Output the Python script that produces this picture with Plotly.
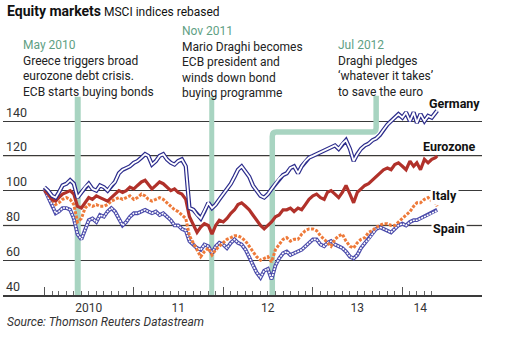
import plotly.graph_objects as go

# ---------------- data (half-monthly readings, MSCI indices rebased) ----------------
dates = []
for yr in range(2010, 2015):
    for mth in range(1, 13):
        if yr == 2014 and mth > 5:
            break
        dates.append(f"{yr}-{mth:02d}-01")
        dates.append(f"{yr}-{mth:02d}-16")
dates.append("2014-05-23")

germany = [102, 100, 97, 96, 99, 103, 104, 106, 104, 96,
           99, 102, 104, 101, 100, 103, 102, 100, 103, 105,
           110, 112, 113, 114, 116, 117, 119, 121, 120, 115,
           117, 120, 121, 118, 116, 115, 117, 118, 114, 90,
           89, 86, 84, 88, 93, 90, 92, 95, 98, 101,
           104, 108, 112, 114, 111, 108, 103, 100, 97, 96,
           98, 101, 104, 107, 109, 110, 113, 114, 110, 114,
           117, 119, 120, 121, 122, 123, 124, 125, 126, 124,
           127, 129, 124, 117, 121, 124, 126, 127, 129, 130,
           132, 135, 138, 140, 142, 144, 142, 145, 140, 145,
           139, 144, 140, 143, 142, 145, 146]

eurozone = [100, 98, 95, 94, 96, 98, 99, 100, 98, 91,
            90, 93, 96, 95, 97, 96, 95, 94, 96, 98,
            100, 99, 100, 102, 101, 103, 105, 106, 104, 101,
            103, 105, 104, 102, 100, 101, 99, 98, 95, 85,
            80, 76, 79, 81, 80, 75, 80, 83, 82, 84,
            87, 89, 92, 93, 91, 89, 86, 83, 80, 78,
            80, 82, 85, 86, 89, 89, 90, 88, 90, 89,
            92, 95, 97, 98, 96, 95, 99, 100, 98, 96,
            99, 103, 98, 93, 99, 101, 103, 104, 106, 108,
            110, 112, 113, 112, 115, 116, 114, 112, 117, 114,
            116, 112, 118, 116, 118, 119, 120]

italy = [101, 98, 95, 92, 93, 95, 96, 95, 92, 82,
         84, 90, 92, 91, 92, 91, 91, 92, 94, 95,
         96, 95, 96, 97, 95, 96, 98, 97, 95, 94,
         95, 96, 95, 93, 91, 89, 88, 86, 84, 74,
         70, 66, 62, 65, 67, 63, 66, 68, 70, 72,
         73, 74, 74, 73, 71, 68, 65, 62, 60, 61,
         62, 59, 66, 69, 72, 73, 71, 72, 72, 75,
         77, 78, 78, 77, 74, 72, 70, 68, 72, 74,
         75, 71, 68, 67, 70, 72, 73, 76, 77, 79,
         80, 81, 81, 80, 80, 82, 84, 86, 88, 91,
         93, 93, 95, 96, 94, 93, 91]

spain = [101, 96, 92, 87, 88, 90, 90, 89, 84, 75,
         72, 78, 83, 84, 82, 86, 85, 88, 90, 88,
         84, 80, 82, 85, 87, 87, 88, 89, 88, 87,
         88, 86, 87, 85, 83, 80, 80, 78, 77, 71,
         69, 67, 66, 69, 68, 64, 68, 70, 69, 67,
         70, 72, 70, 69, 66, 62, 57, 53, 50, 54,
         55, 49, 57, 61, 64, 65, 63, 64, 65, 66,
         68, 70, 72, 72, 69, 68, 70, 71, 69, 68,
         67, 65, 62, 61, 63, 67, 70, 72, 75, 78,
         79, 78, 77, 76, 78, 80, 81, 80, 82, 83,
         83, 84, 85, 86, 87, 88, 89]

y_ticks = [40, 60, 80, 100, 120, 140]
x_label_pos = ["2010-07-01", "2011-07-01", "2012-07-01", "2013-07-01", "2014-03-15"]
x_label_text = ["2010", "11", "12", "13", "14"]
year_starts = ["2010-01-01", "2011-01-01", "2012-01-01", "2013-01-01", "2014-01-01"]
month_ticks = [f"{yr}-{m:02d}-01" for yr in range(2010, 2015) for m in range(1, 13)
               if not (yr == 2014 and m > 5)]

events = {"May 2010": "2010-05-17", "Nov 2011": "2011-11-15", "Jul 2012": "2012-07-19"}

# ---------------- layout helpers ----------------
W, H = 511, 337
L, R, T, B = 3, 29, 95, 42


def px(xp):
    return (xp - L) / (W - L - R)


def py(yp):
    return (H - B - yp) / (H - T - B)


NAVY = "#2c2c8c"
SPAIN_NAVY = "#4a4aaa"
RED = "#b1312a"
ORANGE = "#ee7a3a"
GREEN_BAND = "#a8d4c1"
GREEN_TEXT = "#5f9f84"
FONT = "Roboto"

fig = go.Figure()

# Spain: outlined, beaded line
fig.add_trace(go.Scatter(x=dates, y=spain, mode="lines",
                         line=dict(color=SPAIN_NAVY, width=3.8), hoverinfo="skip"))
fig.add_trace(go.Scatter(x=dates, y=spain, mode="lines",
                         line=dict(color="white", width=1.6, dash="2px,1px"), hoverinfo="skip"))
# Italy: dotted orange
fig.add_trace(go.Scatter(x=dates, y=italy, mode="lines",
                         line=dict(color=ORANGE, width=3, dash="3px,1.5px"), hoverinfo="skip"))
# Eurozone: solid red
fig.add_trace(go.Scatter(x=dates, y=eurozone, mode="lines",
                         line=dict(color=RED, width=3.2), hoverinfo="skip"))
# Germany: outlined line
fig.add_trace(go.Scatter(x=dates, y=germany, mode="lines",
                         line=dict(color=NAVY, width=4.2), hoverinfo="skip"))
fig.add_trace(go.Scatter(x=dates, y=germany, mode="lines",
                         line=dict(color="white", width=1.8), hoverinfo="skip"))
# dummy trace to anchor the secondary x axis (year ticks)
fig.add_trace(go.Scatter(x=[], y=[], xaxis="x2", showlegend=False, hoverinfo="skip"))

x_range = ["2009-07-16", "2014-11-22"]

shapes = []
# lighter gridlines at 80 and 120
for v in (80, 120):
    shapes.append(dict(type="line", xref="paper", x0=0, x1=1, yref="y", y0=v, y1=v,
                       line=dict(color="#a59d91", width=1.4), layer="between"))
# event bands
shapes.append(dict(type="line", xref="x", yref="y", x0=events["May 2010"], x1=events["May 2010"],
                   y0=40, y1=154, line=dict(color=GREEN_BAND, width=6), layer="between"))
shapes.append(dict(type="line", xref="x", yref="y", x0=events["Nov 2011"], x1=events["Nov 2011"],
                   y0=40, y1=154, line=dict(color=GREEN_BAND, width=5), layer="between"))
j1 = events["Jul 2012"]
j2 = "2013-09-16"
yh = 133.7
path = (f"M{j1},40 L{j1},{yh - 2.5} Q{j1},{yh} 2012-08-04,{yh} "
        f"L2013-09-01,{yh} Q{j2},{yh} {j2},{yh + 2.5} L{j2},154.6")
shapes.append(dict(type="path", xref="x", yref="y", path=path,
                   line=dict(color=GREEN_BAND, width=5.5), layer="between"))

body = "#222222"
annotations = [
    dict(x=px(5), y=py(11), xref="paper", yref="paper", xanchor="left", yanchor="middle",
         showarrow=False, align="left",
         text="<b><span style='font-size:14px'>Equity markets</span></b> "
              "<span style='font-size:12px'>MSCI indices rebased</span>",
         font=dict(family=FONT, size=12, color="#111")),
    dict(x=px(21), y=py(36), xref="paper", yref="paper", xanchor="left", yanchor="top",
         showarrow=False, align="left",
         text=f"<span style='color:{GREEN_TEXT}'>May 2010</span><br>Greece triggers broad<br>"
              "eurozone debt crisis.<br>ECB starts buying bonds",
         font=dict(family=FONT, size=12, color=body)),
    dict(x=px(180), y=py(22), xref="paper", yref="paper", xanchor="left", yanchor="top",
         showarrow=False, align="left",
         text=f"<span style='color:{GREEN_TEXT}'>Nov 2011</span><br>Mario Draghi becomes<br>"
              "ECB president and<br>winds down bond<br>buying programme",
         font=dict(family=FONT, size=12, color=body)),
    dict(x=px(336), y=py(36), xref="paper", yref="paper", xanchor="left", yanchor="top",
         showarrow=False, align="left",
         text=f"<span style='color:{GREEN_TEXT}'>Jul 2012</span><br>Draghi pledges<br>"
              "\u2018whatever it takes\u2019<br>to save the euro",
         font=dict(family=FONT, size=12, color=body)),
    dict(x=px(482), y=py(103), xref="paper", yref="paper", xanchor="right", yanchor="middle",
         showarrow=False, text="<b>Germany</b>", font=dict(family=FONT, size=12.5, color="#111")),
    dict(x=px(478), y=py(146), xref="paper", yref="paper", xanchor="right", yanchor="middle",
         showarrow=False, text="<b>Eurozone</b>", font=dict(family=FONT, size=12.5, color="#111")),
    dict(x=px(430), y=py(195), xref="paper", yref="paper", xanchor="left", yanchor="middle",
         showarrow=False, text="<b>Italy</b>", bgcolor="white", borderpad=1,
         font=dict(family=FONT, size=12.5, color="#111")),
    dict(x=px(431), y=py(228), xref="paper", yref="paper", xanchor="left", yanchor="middle",
         showarrow=False, text="<b>Spain</b>", bgcolor="white", borderpad=1,
         font=dict(family=FONT, size=12.5, color="#111")),
    dict(x=px(5), y=py(322), xref="paper", yref="paper", xanchor="left", yanchor="middle",
         showarrow=False, text="<i>Source: Thomson Reuters Datastream</i>",
         font=dict(family=FONT, size=12, color="#333")),
]

fig.update_layout(
    width=W, height=H,
    margin=dict(l=L, r=R, t=T, b=B, pad=0),
    paper_bgcolor="white", plot_bgcolor="white",
    showlegend=False,
    font=dict(family=FONT, size=12, color="#333"),
    xaxis=dict(type="date", range=x_range, showgrid=False, zeroline=False,
               showline=True, linecolor="#3a3a3a", linewidth=1.5,
               tickmode="array", tickvals=x_label_pos, ticktext=x_label_text,
               ticks="", ticklabelstandoff=1,
               tickfont=dict(family=FONT, size=12, color="#333"),
               minor=dict(tickmode="array", tickvals=month_ticks, ticks="inside",
                          ticklen=4, tickwidth=1, tickcolor="#666", showgrid=False)),
    xaxis2=dict(type="date", range=x_range, overlaying="x", anchor="y", side="bottom",
                showgrid=False, zeroline=False, showline=False,
                tickmode="array", tickvals=year_starts, ticks="inside", ticklen=8,
                tickwidth=1, tickcolor="#555", showticklabels=False),
    yaxis=dict(range=[40, 155], tickmode="array", tickvals=y_ticks,
               ticktext=[str(v) for v in y_ticks], ticklabelposition="inside top",
               showgrid=True, gridcolor="#3a3a3a", gridwidth=1.2, zeroline=False,
               showline=False, ticks="", tickfont=dict(family=FONT, size=12.5, color="#333")),
    shapes=shapes,
    annotations=annotations,
)

fig.write_html("out.html")
